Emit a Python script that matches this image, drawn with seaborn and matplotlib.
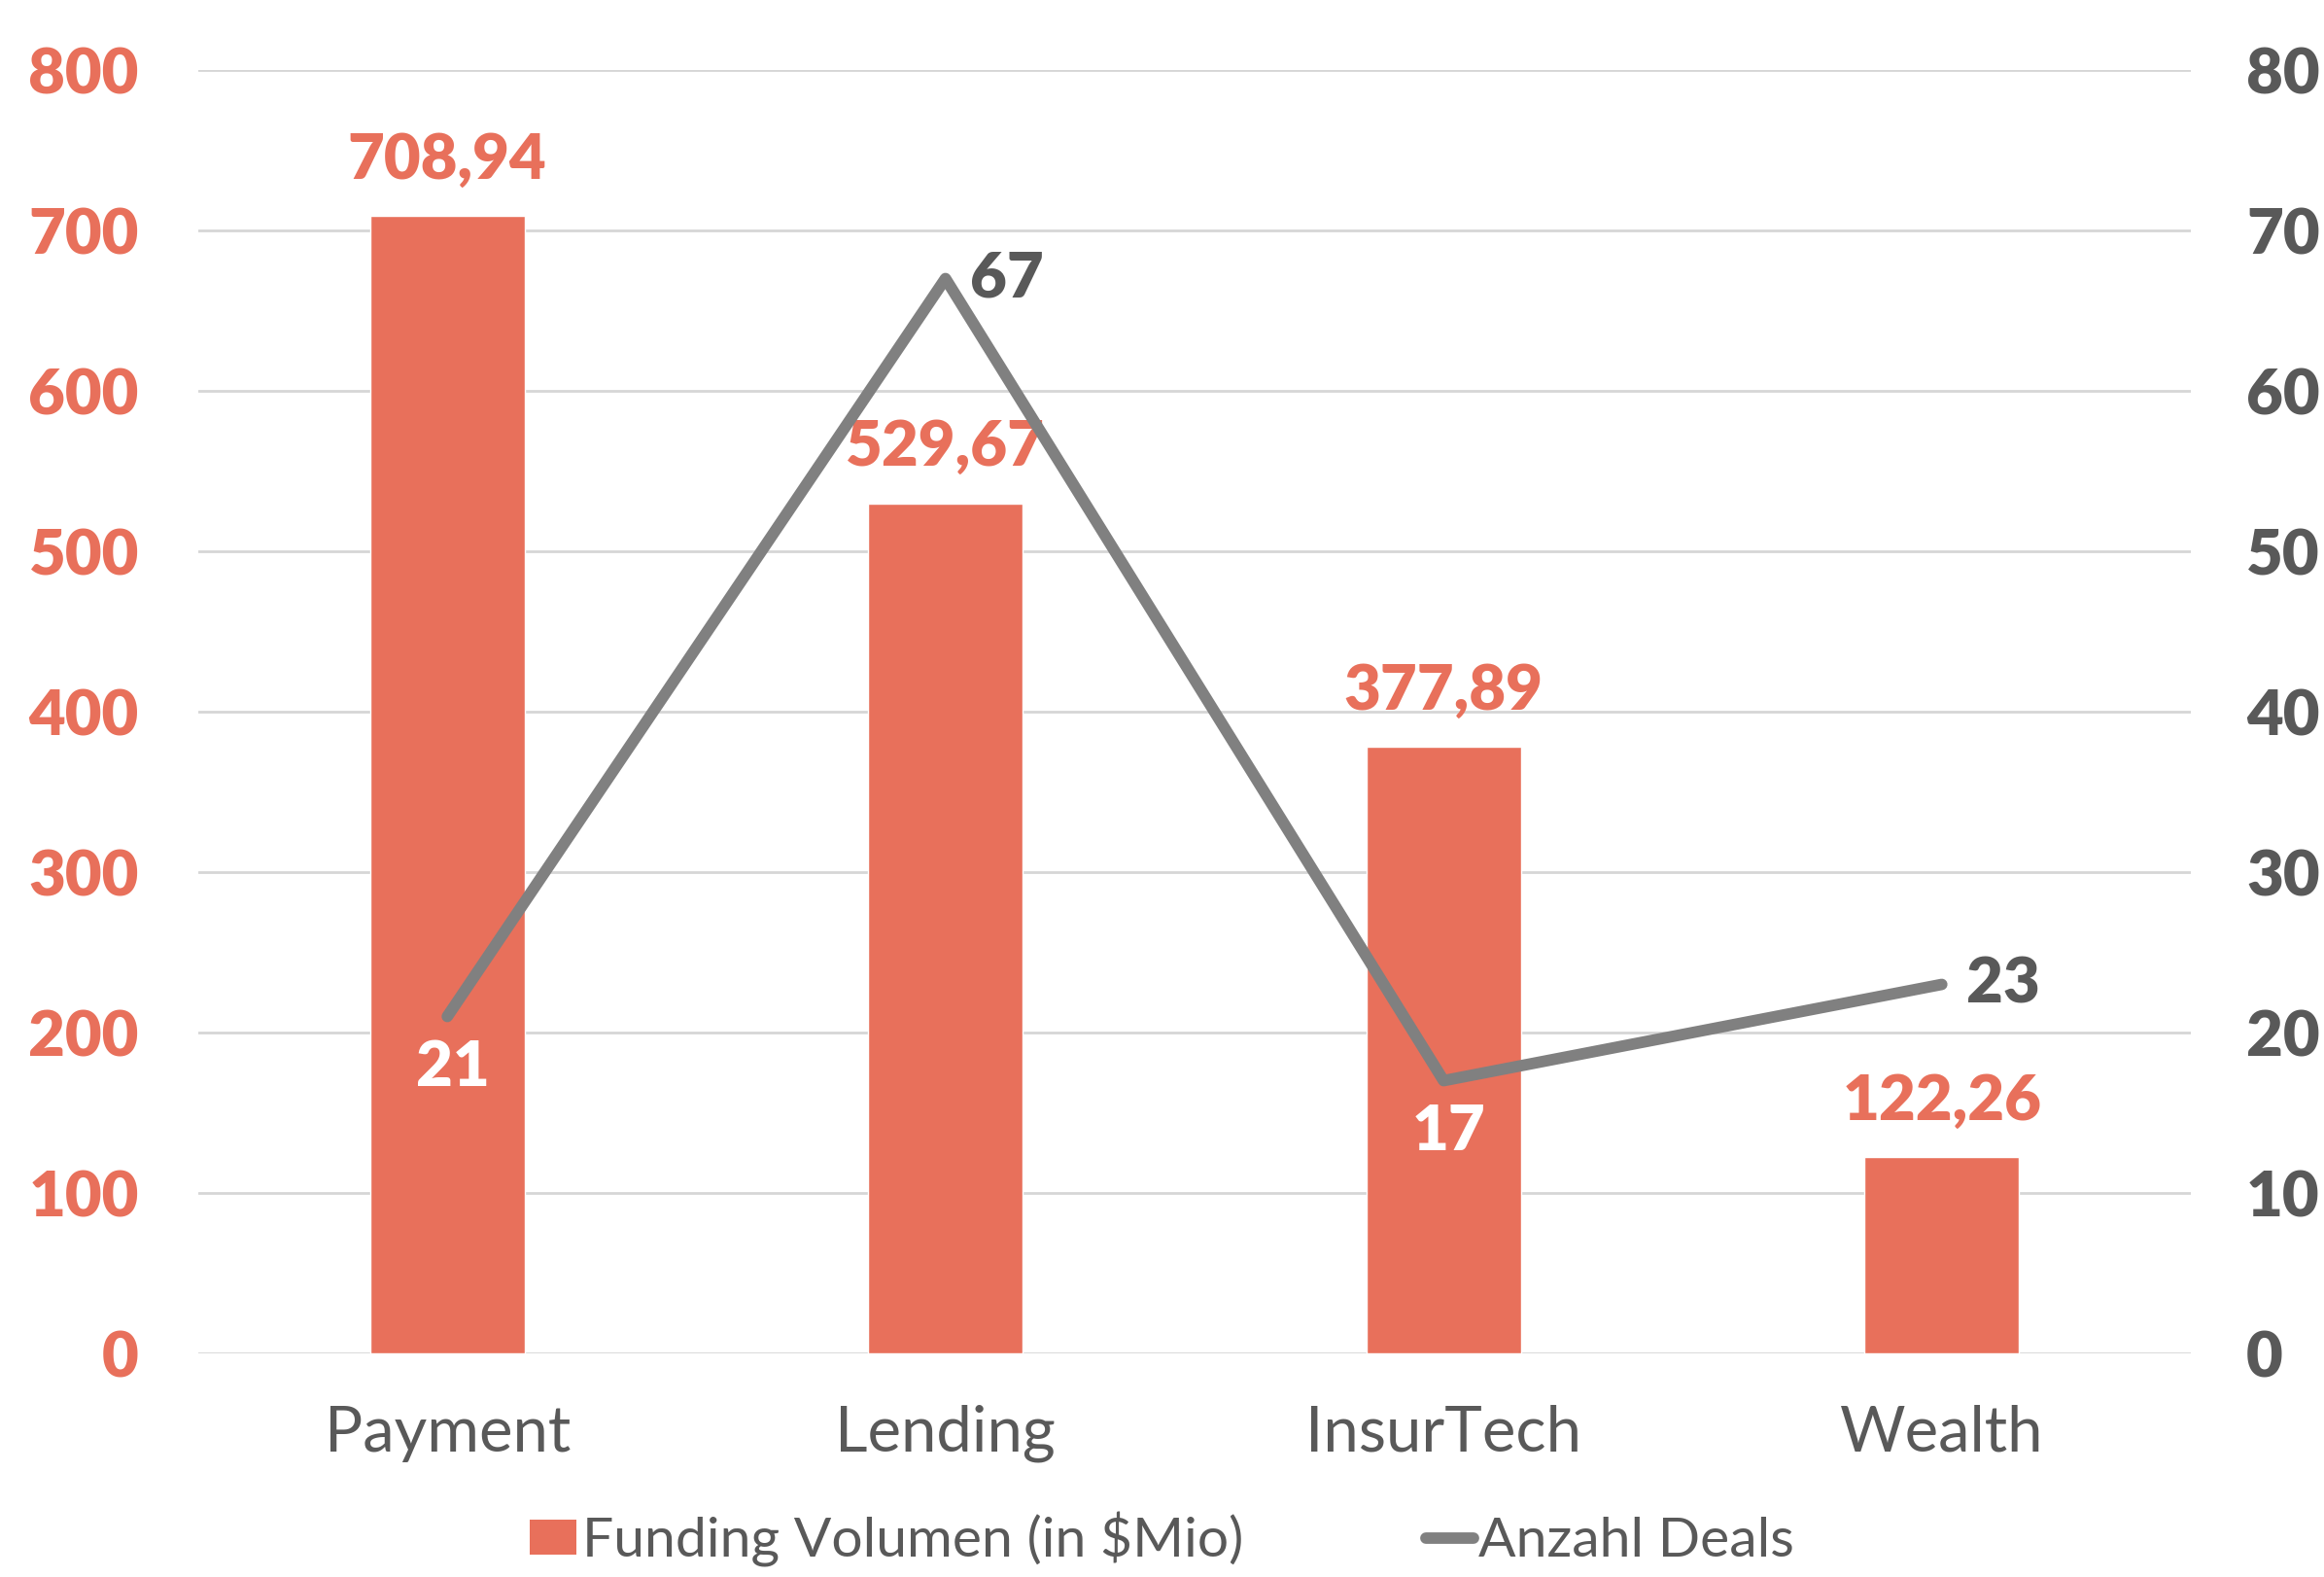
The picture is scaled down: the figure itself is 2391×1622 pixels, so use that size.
import pandas as pd
import numpy as np
import matplotlib.pyplot as plt
import seaborn as sns
from matplotlib.lines import Line2D
from matplotlib.patches import Patch

sns.set_theme(style="white")
plt.rcParams["font.family"] = ["Lato", "DejaVu Sans"]

# data
categories = ["Payment", "Lending", "InsurTech", "Wealth"]
funding = [708.94, 529.67, 377.89, 122.26]
deals = [21, 67, 17, 23]
funding_labels = ["708,94", "529,67", "377,89", "122,26"]

CORAL = "#E8705B"
GREY_LINE = "#808080"
DARK = "#595959"

df = pd.DataFrame({"Kategorie": categories, "Funding": funding, "Deals": deals})

fig = plt.figure(figsize=(23.91, 16.22), dpi=100)
ax = fig.add_axes([0.0853, 0.1418, 0.8574, 0.8138])

sns.barplot(data=df, x="Kategorie", y="Funding", color=CORAL, saturation=1,
            width=0.31, ax=ax, zorder=2)
ax.set_ylim(0, 800)
ax.set_xlim(-0.5, 3.5)
ax.set_yticks(np.arange(0, 801, 100))
ax.yaxis.grid(True, color="#D6D6D6", linewidth=2, zorder=0)
ax.set_axisbelow(True)
for s in ax.spines.values():
    s.set_visible(False)
ax.set_xlabel("")
ax.set_ylabel("")
ax.tick_params(axis="y", length=0, pad=44, labelsize=47, labelcolor=CORAL)
ax.tick_params(axis="x", length=0, pad=38, labelsize=47, labelcolor=DARK)
for t in ax.get_yticklabels():
    t.set_fontweight("heavy")

ax.bar_label(ax.containers[0], labels=funding_labels, padding=20,
             fontsize=47, fontweight="heavy", color=CORAL)

ax2 = ax.twinx()
sns.lineplot(data=df, x="Kategorie", y="Deals", color=GREY_LINE, linewidth=8.5,
             sort=False, ax=ax2, solid_capstyle="round", solid_joinstyle="round")
ax2.set_ylim(0, 80)
ax2.set_yticks(np.arange(0, 81, 10))
ax2.set_ylabel("")
for s in ax2.spines.values():
    s.set_visible(False)
ax2.tick_params(axis="y", length=0, pad=41, labelsize=47, labelcolor=DARK)
for t in ax2.get_yticklabels():
    t.set_fontweight("heavy")

# deal labels: white below point inside bars, dark to the right otherwise
offsets = {0: ("below", "white"), 1: ("right", DARK), 2: ("below", "white"), 3: ("right", DARK)}
for i, v in enumerate(deals):
    pos, col = offsets[i]
    if pos == "below":
        ax2.annotate(str(v), (i, v), xytext=(4, -38), textcoords="offset points",
                     ha="center", va="center", fontsize=47, fontweight="heavy", color=col)
    else:
        ax2.annotate(str(v), (i, v), xytext=(18, 0), textcoords="offset points",
                     ha="left", va="center", fontsize=47, fontweight="heavy", color=col)

handles = [Patch(facecolor=CORAL, edgecolor="none"),
           Line2D([0], [0], color=GREY_LINE, linewidth=8.5, solid_capstyle="round")]
leg = fig.legend(handles, ["Funding Volumen (in $Mio)", "Anzahl Deals"],
                 loc="center", bbox_to_anchor=(0.5, 0.024), ncol=2, frameon=False,
                 fontsize=41, handlelength=0.85, handletextpad=0.1, columnspacing=3.3,
                 handleheight=0.6)
for t in leg.get_texts():
    t.set_color(DARK)

fig.savefig("out.png", dpi=100)
